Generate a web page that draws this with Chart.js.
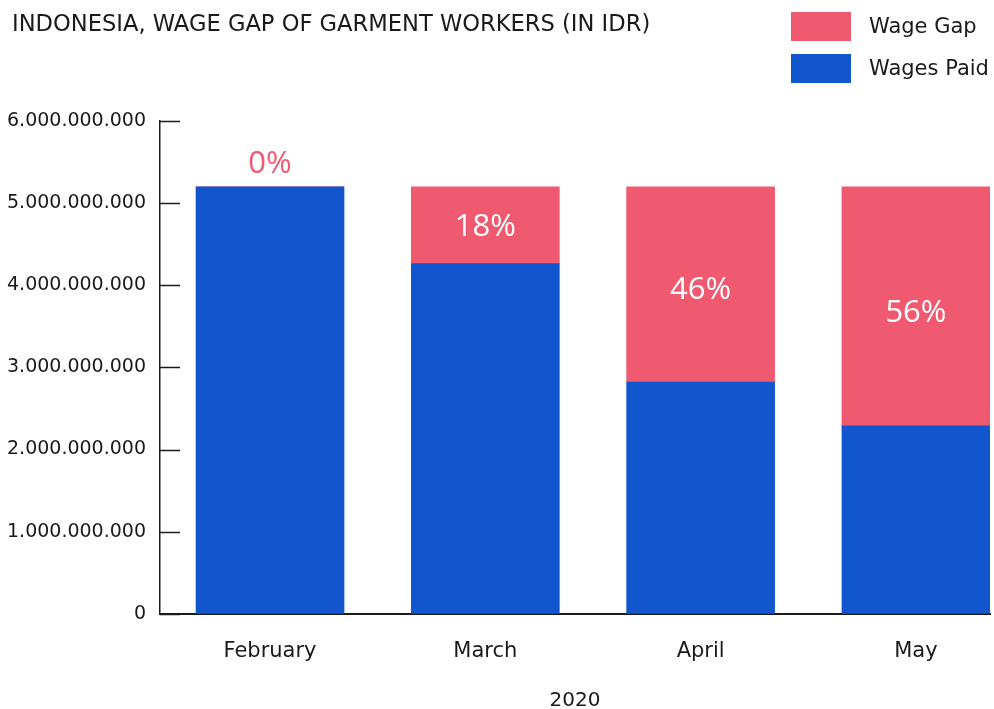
<!DOCTYPE html>
<html><head><meta charset="utf-8">
<script src="https://cdn.jsdelivr.net/npm/chart.js@4.4.1/dist/chart.umd.min.js"></script>
<style>html,body{margin:0;padding:0;background:#fff;overflow:hidden}</style>
</head><body>
<canvas id="c" width="994" height="709"></canvas>
<script>
const chartTitle = 'INDONESIA, WAGE GAP OF GARMENT WORKERS (IN IDR)';
const categories = ['February', 'March', 'April', 'May'];
const wagesPaid = [5200000000, 4264000000, 2820000000, 2288000000];
const wageGap = [0, 936000000, 2380000000, 2912000000];
const gapLabels = ['0%', '18%', '46%', '56%'];
const yTickValues = [0, 1000000000, 2000000000, 3000000000, 4000000000, 5000000000, 6000000000];
const xAxisTitle = '2020';

const PINK = '#F05A71';
const BLUE = '#1156CC';
const INK = '#1a1a1a';
const AXIS_FONT = 'DejaVu Sans';

function fmt(v) { return String(Math.round(v)).replace(/\B(?=(\d{3})+(?!\d))/g, '.'); }

const overlay = {
  id: 'overlay',
  afterDraw(chart) {
    const ctx = chart.ctx;
    const y = chart.scales.y;
    const area = chart.chartArea;
    ctx.save();
    ctx.strokeStyle = INK; ctx.lineWidth = 1.5;
    y.ticks.forEach(t => {
      const py = Math.round(y.getPixelForValue(t.value)) + 0.5;
      ctx.beginPath(); ctx.moveTo(area.left, py); ctx.lineTo(area.left + 20, py); ctx.stroke();
    });
    ctx.fillStyle = INK;
    ctx.font = '22.6px ' + AXIS_FONT;
    ctx.textAlign = 'left'; ctx.textBaseline = 'middle';
    ctx.fillText(chartTitle, 12, 25);
    const items = [chart.data.datasets[1], chart.data.datasets[0]];
    ctx.font = '21px ' + AXIS_FONT;
    items.forEach((ds, i) => {
      const top = 12 + i * 42;
      ctx.fillStyle = ds.backgroundColor;
      ctx.fillRect(791, top, 60, 29);
      ctx.fillStyle = INK;
      ctx.fillText(ds.label, 869, top + 16);
    });
    ctx.restore();
  },
  afterDatasetsDraw(chart) {
    const ctx = chart.ctx;
    const meta = chart.getDatasetMeta(1);
    const y = chart.scales.y;
    ctx.save();
    ctx.font = '31px "Open Sans"';
    ctx.textAlign = 'center'; ctx.textBaseline = 'middle';
    meta.data.forEach((bar, i) => {
      const gap = wageGap[i];
      if (gap === 0) {
        ctx.fillStyle = PINK;
        ctx.fillText(gapLabels[i], bar.x, bar.y - 23);
      } else {
        ctx.fillStyle = '#ffffff';
        ctx.fillText(gapLabels[i], bar.x, y.getPixelForValue(wagesPaid[i] + gap * 0.47));
      }
    });
    ctx.restore();
  }
};

new Chart(document.getElementById('c'), {
  type: 'bar',
  data: {
    datasets: [
      { label: 'Wages Paid', data: wagesPaid.map((v, i) => ({ x: i, y: v })), backgroundColor: BLUE, barThickness: 148 },
      { label: 'Wage Gap', data: wageGap.map((v, i) => ({ x: i, y: v })), backgroundColor: PINK, barThickness: 148 }
    ]
  },
  options: {
    responsive: false,
    animation: false,
    layout: { padding: { top: 121, right: 4, left: 0, bottom: -4 } },
    plugins: { legend: { display: false }, tooltip: { enabled: false }, title: { display: false } },
    scales: {
      x: {
        type: 'linear', stacked: true, offset: false, min: -0.511, max: 3.344,
        grid: { display: false, drawTicks: false, offset: false },
        border: { display: true, color: INK, width: 2 },
        afterBuildTicks: (s) => { s.ticks = categories.map((c, i) => ({ value: i })); },
        ticks: { callback: (v) => categories[v], color: INK, padding: 25, maxRotation: 0, autoSkip: false,
                 font: { family: AXIS_FONT, size: 21 } },
        title: { display: true, text: xAxisTitle, color: INK, font: { family: AXIS_FONT, size: 20 },
                 padding: { top: 0, bottom: 0 } }
      },
      y: {
        stacked: true, min: 0, max: 6000000000,
        afterBuildTicks: (s) => { s.ticks = yTickValues.map(v => ({ value: v })); },
        afterFit: (s) => { s.width = 160; },
        grid: { display: false, drawTicks: false },
        border: { display: true, color: INK, width: 1.5 },
        ticks: { callback: (v) => fmt(v), color: INK, padding: 14, font: { family: AXIS_FONT, size: 19 } }
      }
    }
  },
  plugins: [overlay]
});
</script>
</body></html>
